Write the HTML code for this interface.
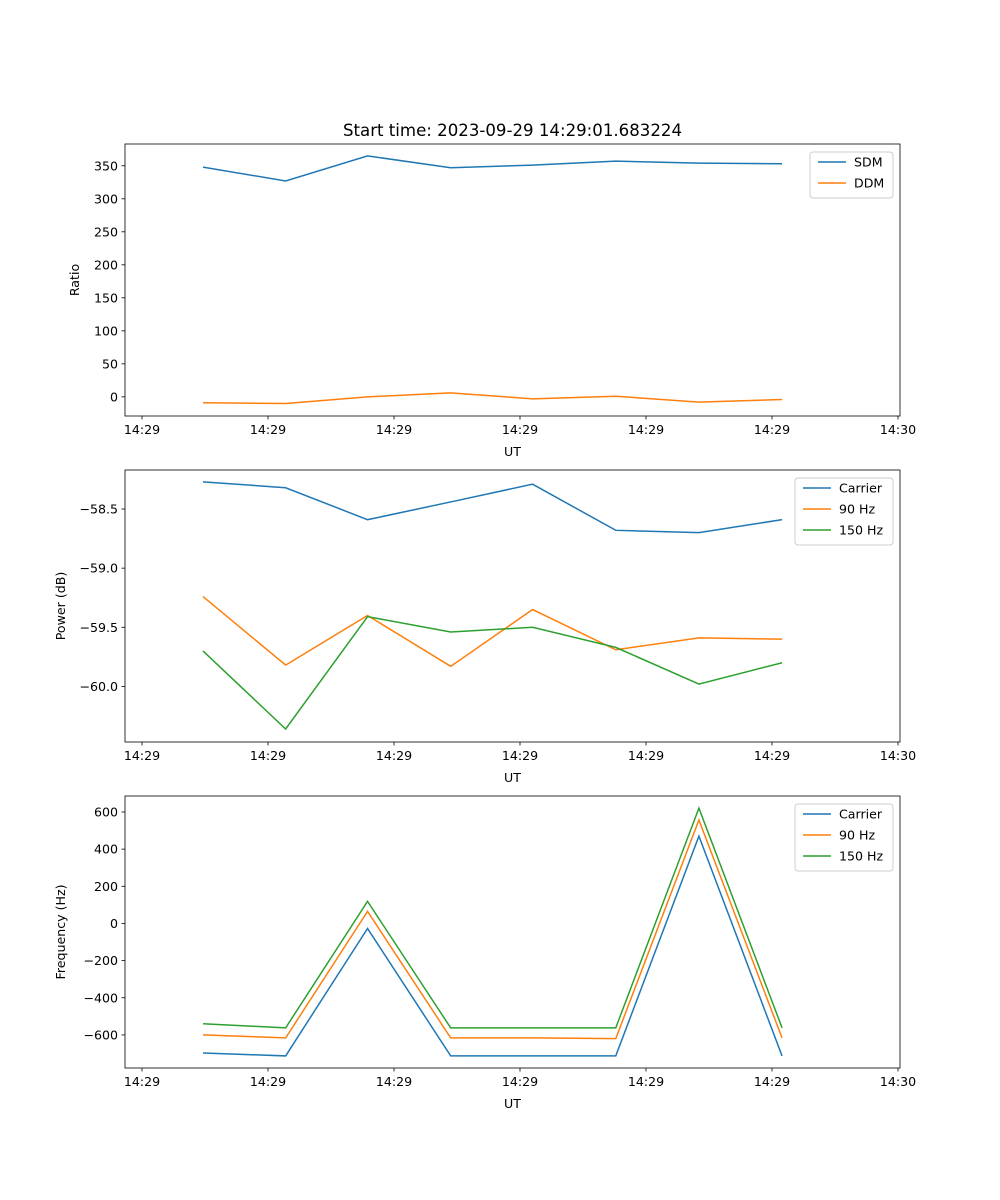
<!DOCTYPE html>
<html><head><meta charset="utf-8"><style>
body{margin:0;background:#fff}
svg{display:block;font-family:"DejaVu Sans","Liberation Sans",sans-serif}
</style></head><body>
<svg id="fig" width="1000" height="1200" viewBox="0 0 1000 1200" xmlns="http://www.w3.org/2000/svg">
<rect width="1000" height="1200" fill="#fff"/>
<text x="512.5" y="136" text-anchor="middle" font-size="16.6">Start time: 2023-09-29 14:29:01.683224</text>
</svg>
<script>
const times = [4.84, 11.4, 17.9, 24.5, 31.0, 37.6, 44.2, 50.8];
const xTicks = [0, 10, 20, 30, 40, 50, 60];
const xTickLabels = ["14:29","14:29","14:29","14:29","14:29","14:29","14:30"];
const sdm = [348, 327, 365, 347, 351, 357, 354, 353];
const ddm = [-9, -10, 0, 6, -3, 1, -8, -4];
const ratioTicks = [0, 50, 100, 150, 200, 250, 300, 350];
const powCarrier = [-58.27, -58.32, -58.59, -58.44, -58.29, -58.68, -58.70, -58.59];
const pow90 = [-59.24, -59.82, -59.40, -59.83, -59.35, -59.69, -59.59, -59.60];
const pow150 = [-59.70, -60.36, -59.41, -59.54, -59.50, -59.67, -59.98, -59.80];
const powTicks = [-60.0, -59.5, -59.0, -58.5];
const powTickLabels = ["\u221260.0","\u221259.5","\u221259.0","\u221258.5"];
const freqCarrier = [-697, -713, -27, -713, -713, -713, 470, -713];
const freq90 = [-600, -616, 65, -616, -616, -620, 557, -616];
const freq150 = [-540, -562, 119, -562, -562, -562, 621, -562];
const freqTicks = [-600, -400, -200, 0, 200, 400, 600];
const freqTickLabels = ["\u2212600","\u2212400","\u2212200","0","200","400","600"];

const NS = "http://www.w3.org/2000/svg";
const svg = document.getElementById('fig');
function mk(tag, attrs, parent){const e=document.createElementNS(NS,tag);for(const k in attrs)e.setAttribute(k,attrs[k]);(parent||svg).appendChild(e);return e;}
const L=125,R=900,xmin=-1.35,xmax=60.16;
const sx=v=>L+(v-xmin)/(xmax-xmin)*(R-L);
const C=['#1f77b4','#ff7f0e','#2ca02c'];
const FS=12.6;

function panel(name, top, bot, ymin, ymax, yTicks, yTickLabels, ylabel, series, names, legendW){
  const g=mk('g',{});
  
  
  const sy=v=>bot-(v-ymin)/(ymax-ymin)*(bot-top);
  series.forEach((s,i)=>{
    const p=mk('polyline',{points:s.map((v,j)=>sx(times[j])+','+sy(v)).join(' '),fill:'none',stroke:C[i],'stroke-width':1.5},g);
    
    
  });
  mk('rect',{x:L,y:top,width:R-L,height:bot-top,fill:'none',stroke:'#000','stroke-width':0.8},g);
  xTicks.forEach((t,i)=>{
    const x=sx(t);
    mk('line',{x1:x,x2:x,y1:bot,y2:bot+3.5,stroke:'#000','stroke-width':0.8},g);
    const tx=mk('text',{x:x,y:bot+18,'text-anchor':'middle','font-size':FS},g);
    tx.textContent=xTickLabels[i];
    
    
  });
  yTicks.forEach((t,i)=>{
    const y=sy(t);
    mk('line',{x1:L-3.5,x2:L,y1:y,y2:y,stroke:'#000','stroke-width':0.8},g);
    const tx=mk('text',{x:L-7,y:y+4.5,'text-anchor':'end','font-size':FS},g);
    tx.textContent=yTickLabels[i];
    
    
  });
  const xl=mk('text',{x:(L+R)/2,y:bot+40,'text-anchor':'middle','font-size':FS},g);
  xl.textContent='UT';
  
  
  const yl=mk('text',{x:0,y:0,'text-anchor':'middle','font-size':FS,transform:`translate(${name==='ratio'?79:65},${(top+bot)/2}) rotate(-90)`},g);
  yl.textContent=ylabel;
  
  
  const lx=R-7-legendW, ly=top+8, lh=names.length*21+4;
  const lg=mk('g',{},g);
  
  
  mk('rect',{x:lx,y:ly,width:legendW,height:lh,rx:3,fill:'#fff','fill-opacity':0.8,stroke:'#ccc'},lg);
  names.forEach((n,i)=>{
    const yy=ly+10+i*21;
    mk('line',{x1:lx+8,x2:lx+36,y1:yy,y2:yy,stroke:C[i],'stroke-width':1.5},lg);
    const t=mk('text',{x:lx+44,y:yy+4.5,'font-size':FS},lg);
    t.textContent=n;
    
    
  });
}
panel('ratio',144,416,-29,383,ratioTicks,ratioTicks.map(String),'Ratio',[sdm,ddm],['SDM','DDM'],83);
panel('power',470,742,-60.47,-58.17,powTicks,powTickLabels,'Power (dB)',[powCarrier,pow90,pow150],['Carrier','90 Hz','150 Hz'],98);
panel('frequency',796,1068,-778,686,freqTicks,freqTickLabels,'Frequency (Hz)',[freqCarrier,freq90,freq150],['Carrier','90 Hz','150 Hz'],98);
</script>
</body></html>
